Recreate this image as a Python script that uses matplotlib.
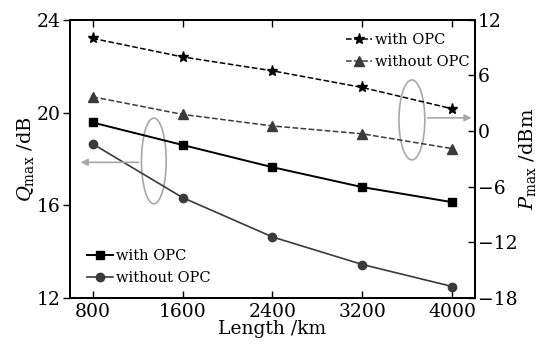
import matplotlib.pyplot as plt
from matplotlib.patches import Ellipse

plt.rcParams['font.family'] = 'DejaVu Serif'
plt.rcParams['mathtext.fontset'] = 'dejavuserif'

length = [800, 1600, 2400, 3200, 4000]
# Q_max (left axis, dB)
q_with = [19.57, 18.6, 17.64, 16.78, 16.13]
q_without = [18.65, 16.33, 14.63, 13.44, 12.49]
# P_max (right axis, dBm)
p_with = [10.0, 8.0, 6.5, 4.7, 2.4]
p_without = [3.7, 1.8, 0.55, -0.3, -1.9]

fig = plt.figure(figsize=(5.39, 3.48), dpi=100)
ax = fig.add_axes([0.130, 0.144, 0.751, 0.799])
ax2 = ax.twinx()

l1, = ax.plot(length, q_with, '-', color='black', marker='s', ms=6, lw=1.4, label='with OPC')
l2, = ax.plot(length, q_without, '-', color='#3a3a3a', marker='o', ms=6, lw=1.2, label='without OPC')
l3, = ax2.plot(length, p_with, '--', color='black', marker='*', ms=8, lw=1.1, label='with OPC')
l4, = ax2.plot(length, p_without, '--', color='#3a3a3a', marker='^', ms=7, lw=1.1, label='without OPC')

ax.set_xlim(600, 4200)
ax.set_ylim(12, 24)
ax2.set_ylim(-18, 12)
ax.set_xticks(length)
ax.set_yticks([12, 16, 20, 24])
ax2.set_yticks([-18, -12, -6, 0, 6, 12])
ax2.set_yticklabels(['\u221218', '\u221212', '\u22126', '0', '6', '12'])

ax.tick_params(axis='x', direction='in', top=True, length=5, width=1, labelsize=13.5, pad=4)
ax.tick_params(axis='y', direction='out', length=5, width=1, labelsize=13.5, pad=2)
ax2.tick_params(axis='y', direction='in', length=5, width=1, labelsize=13.5, pad=2)
for a in (ax, ax2):
    for s in a.spines.values():
        s.set_linewidth(1.4)

ax.set_xlabel('Length /km', fontsize=13.5, labelpad=-1)
ax.set_ylabel(r'$Q_{\rm max}$ /dB', fontsize=14, labelpad=0)
ax2.set_ylabel(r'$P_{\rm max}$ /dBm', fontsize=14, labelpad=0)

leg1 = ax.legend(handles=[l1, l2], loc='lower left', frameon=False, fontsize=10.5,
                 handlelength=1.8, handletextpad=0.2, labelspacing=0.55,
                 bbox_to_anchor=(0.01, 0.0))
leg2 = ax2.legend(handles=[l3, l4], loc='upper right', frameon=False, fontsize=10.5,
                  handlelength=1.8, handletextpad=0.2, labelspacing=0.55,
                  bbox_to_anchor=(1.02, 1.0))

# ellipses with arrows
ax.add_patch(Ellipse((1345, 17.91), 220, 3.7, fill=False, edgecolor='#a8a8a8', lw=1.2))
ax.annotate('', xy=(670, 17.85), xytext=(1235, 17.85),
            arrowprops=dict(arrowstyle='-|>', color='#a8a8a8', lw=1.2))
ax.add_patch(Ellipse((3640, 19.68), 230, 3.45, fill=False, edgecolor='#a8a8a8', lw=1.2))
ax.annotate('', xy=(4195, 19.77), xytext=(3755, 19.77),
            arrowprops=dict(arrowstyle='-|>', color='#a8a8a8', lw=1.2))

fig.savefig('out.png', dpi=100)
